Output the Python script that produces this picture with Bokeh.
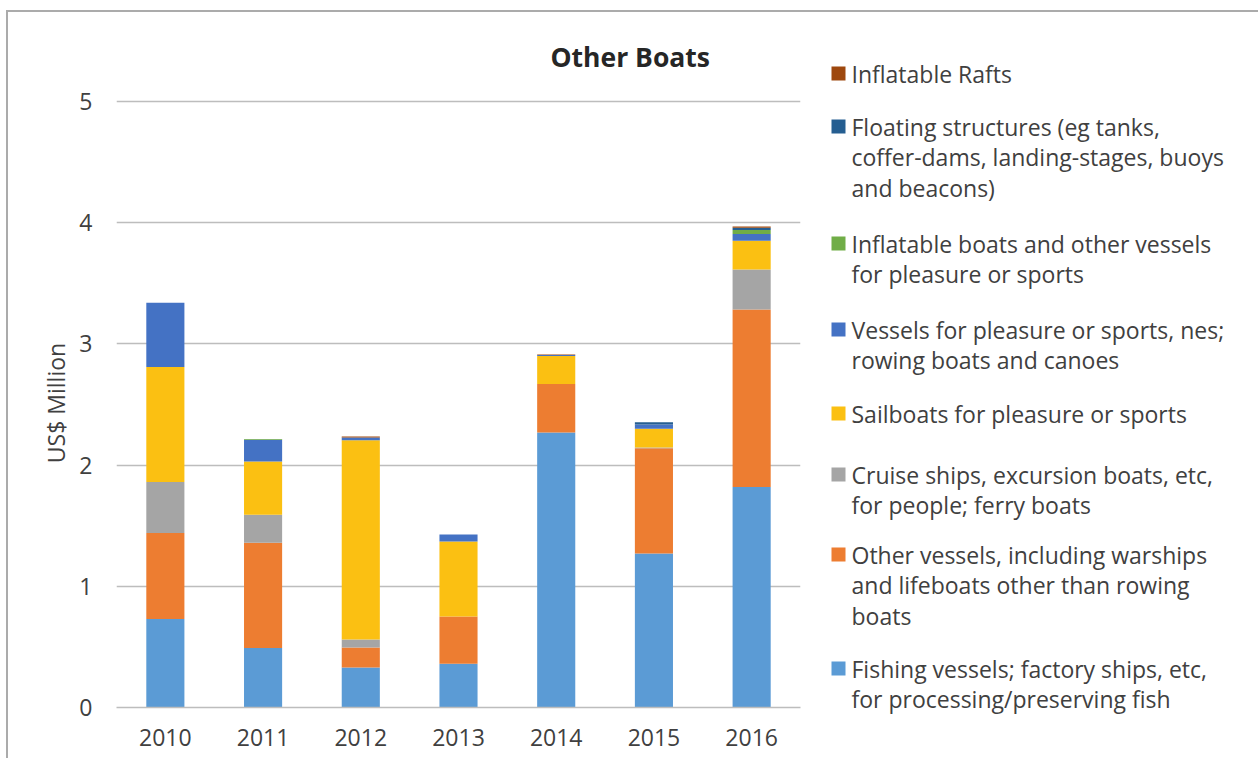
from bokeh.plotting import figure
from bokeh.models import ColumnDataSource, FactorRange, Range1d, FixedTicker
from bokeh.layouts import row
from bokeh.embed import file_html
from bokeh.resources import INLINE
from bokeh.core.properties import value

# ---- data (US$ Million) ----
years = ["2010", "2011", "2012", "2013", "2014", "2015", "2016"]
fishing = [0.73, 0.49, 0.33, 0.36, 2.27, 1.27, 1.82]
other_vessels = [0.71, 0.87, 0.165, 0.39, 0.40, 0.87, 1.465]
cruise = [0.42, 0.23, 0.066, 0.0, 0.0, 0.005, 0.33]
sailboats = [0.95, 0.44, 1.645, 0.62, 0.23, 0.154, 0.236]
pleasure_vessels = [0.53, 0.18, 0.022, 0.057, 0.008, 0.036, 0.055]
inflatable_boats = [0.0, 0.005, 0.0, 0.0, 0.0, 0.0, 0.033]
floating = [0.0, 0.0, 0.0, 0.0, 0.0, 0.019, 0.019]
rafts = [0.0, 0.0, 0.008, 0.0, 0.004, 0.0, 0.011]

keys = ["fishing", "other_vessels", "cruise", "sailboats",
        "pleasure_vessels", "inflatable_boats", "floating", "rafts"]
labels = [
    "Fishing vessels; factory ships, etc,\nfor processing/preserving fish",
    "Other vessels, including warships\nand lifeboats other than rowing\nboats",
    "Cruise ships, excursion boats, etc,\nfor people; ferry boats",
    "Sailboats for pleasure or sports",
    "Vessels for pleasure or sports, nes;\nrowing boats and canoes",
    "Inflatable boats and other vessels\nfor pleasure or sports",
    "Floating structures (eg tanks,\ncoffer-dams, landing-stages, buoys\nand beacons)",
    "Inflatable Rafts",
]
colors = ["#5B9BD5", "#ED7D31", "#A5A5A5", "#FBC012",
          "#4472C4", "#70AD47", "#255E91", "#9E480E"]
y_ticks = [0, 1, 2, 3, 4, 5]

FONT = "Open Sans"
TXT = "#404040"
GRID = "#BDBDBD"

source = ColumnDataSource(dict(
    year=years, fishing=fishing, other_vessels=other_vessels, cruise=cruise,
    sailboats=sailboats, pleasure_vessels=pleasure_vessels,
    inflatable_boats=inflatable_boats, floating=floating, rafts=rafts))

p = figure(x_range=FactorRange(*years), y_range=Range1d(0, 5.025),
           width=802, height=746, output_backend="svg", toolbar_location=None,
           min_border_left=108, min_border_right=10, min_border_top=86,
           min_border_bottom=51)
p.frame_align = False
p.vbar_stack(keys, x="year", width=0.39, color=colors, line_color=None,
             source=source)

p.title.text = "Other Boats"
p.title.align = "left"
p.title.offset = 434
p.title.standoff = 47
p.title.text_font = FONT
p.title.text_font_size = "26.5px"
p.title.text_font_style = "bold"
p.title.text_color = "#262626"

p.outline_line_color = None
p.xgrid.grid_line_color = None
p.ygrid.ticker = FixedTicker(ticks=y_ticks)
p.ygrid.grid_line_color = GRID
p.ygrid.grid_line_width = 1.4

p.yaxis.ticker = FixedTicker(ticks=y_ticks)
p.yaxis.axis_line_color = None
p.yaxis.major_tick_line_color = None
p.yaxis.minor_tick_line_color = None
p.yaxis.major_tick_out = 0
p.yaxis.major_tick_in = 0
p.yaxis.major_label_standoff = 24
p.yaxis.axis_label = "US$ Million"
p.yaxis.axis_label_text_font = FONT
p.yaxis.axis_label_text_font_style = "normal"
p.yaxis.axis_label_text_font_size = "23px"
p.yaxis.axis_label_text_color = TXT
p.yaxis.axis_label_standoff = 4

p.xaxis.axis_line_color = GRID
p.xaxis.axis_line_width = 1.4
p.xaxis.major_tick_line_color = None
p.xaxis.minor_tick_line_color = None
p.xaxis.major_tick_out = 0
p.xaxis.major_tick_in = 0
p.xaxis.major_label_standoff = 21

for ax in (p.xaxis, p.yaxis):
    ax.major_label_text_font = FONT
    ax.major_label_text_font_size = "23px"
    ax.major_label_text_color = TXT

# ---- legend panel (page pixel coordinates) ----
leg_labels = labels[::-1]
leg_colors = colors[::-1]
leg_y = [73, 126, 243, 329, 413, 474, 554, 668]   # first-line centres (layout)
LINE = 30.5

line_x, line_y, line_txt = [], [], []
for yc, lab in zip(leg_y, leg_labels):
    for j, part in enumerate(lab.split("\n")):
        line_x.append(851)
        line_y.append(yc + LINE * j)
        line_txt.append(part)

leg = figure(width=448, height=746, x_range=Range1d(810, 1258),
             y_range=Range1d(758, 12), output_backend="svg",
             toolbar_location=None, x_axis_type=None, y_axis_type=None,
             min_border=0, min_border_left=0, min_border_right=0,
             min_border_top=0, min_border_bottom=0)
leg.frame_align = False
leg.outline_line_color = None
leg.grid.visible = False

sq_src = ColumnDataSource(dict(x=[838] * len(leg_y), y=leg_y, color=leg_colors))
leg.scatter(x="x", y="y", marker="square", size=14, color="color",
            line_color=None, source=sq_src)
tx_src = ColumnDataSource(dict(x=line_x, y=line_y, text=line_txt))
leg.text(x="x", y="y", text="text", source=tx_src,
         text_font=value(FONT), text_font_size="23px", text_color=TXT,
         text_baseline="middle", text_align="left")

layout = row(p, leg, margin=(10, 0, 0, 6),
             styles={"border-top": "2px solid #ABABAB",
                     "border-left": "2px solid #ABABAB"})

open("out.html", "w").write(file_html(layout, INLINE))
